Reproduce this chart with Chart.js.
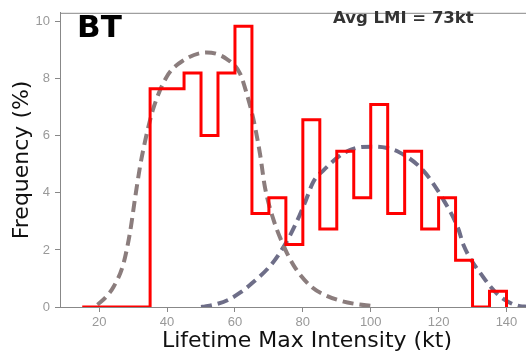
<!DOCTYPE html>
<html>
<head>
<meta charset="utf-8">
<script src="https://cdn.jsdelivr.net/npm/chart.js@4"></script>
<style>
  html, body { margin: 0; padding: 0; background: #fff; overflow: hidden; }
  #wrap { width: 556px; height: 356px; }
</style>
</head>
<body>
<div id="wrap"><canvas id="lmiChart" width="556" height="356"></canvas></div>
<script>
// histogram of lifetime max intensity, 5 kt bins
const binEdges = [15, 20, 25, 30, 35, 40, 45, 50, 55, 60, 65, 70, 75, 80, 85, 90, 95, 100, 105, 110, 115, 120, 125, 130, 135, 140];
const freqPct = [0, 0, 0, 0, 7.65, 7.65, 8.20, 6.01, 8.20, 9.84, 3.28, 3.83, 2.19, 6.56, 2.73, 5.46, 3.83, 7.10, 3.28, 5.46, 2.73, 3.83, 1.64, 0, 0.55];

// fitted curve for the weak mode
const weakX = [19.5, 22, 24.2, 27.1, 29.1, 30.5, 32, 33.5, 35.9, 39.9, 44.8, 51.7, 57.6, 61.5, 63.4, 65.4, 67.4, 68.8, 71.3, 74.2, 77.7, 82.6, 86, 91, 95.8, 100];
const weakY = [0.08, 0.35, 0.7, 1.5, 2.63, 3.76, 4.9, 5.8, 6.94, 8.07, 8.64, 8.92, 8.69, 8.18, 7.5, 6.6, 5.35, 4.22, 3.08, 2.18, 1.38, 0.7, 0.45, 0.22, 0.1, 0.04];

// fitted curve for the strong mode
const strongX = [50, 51.2, 54.5, 58, 61.5, 64.9, 70.8, 74.7, 77.7, 80.6, 83.1, 86, 91.9, 96.8, 100.7, 104.5, 108.6, 115.5, 121.4, 125.8, 127.3, 133.2, 137.6, 141, 144, 146];
const strongY = [0, 0.02, 0.1, 0.25, 0.5, 0.82, 1.5, 2.18, 2.86, 3.65, 4.39, 4.78, 5.38, 5.6, 5.62, 5.58, 5.41, 4.78, 3.76, 2.74, 2.18, 1.04, 0.42, 0.15, 0.03, 0.01];

const xTicks = [20, 40, 60, 80, 100, 120, 140];
const yTicks = [0, 2, 4, 6, 8, 10];

const histPoints = binEdges.map((x, i) => ({ x: x, y: i < freqPct.length ? freqPct[i] : 0 }));
const toPoints = (xs, ys) => xs.map((x, i) => ({ x: x, y: ys[i] }));

const tickFont = { family: "'Liberation Sans', Arial, sans-serif", size: 13 };
const titleFont = { family: "'DejaVu Sans', sans-serif", size: 22, lineHeight: 1.2 };
const spine = "#888";

// top/right frame plus the two annotations
const framePlugin = {
    id: "frame",
    afterDraw(chart) {
        const { ctx, chartArea: a } = chart;
        ctx.save();
        ctx.strokeStyle = spine;
        ctx.lineWidth = 1;
        ctx.beginPath();
        ctx.moveTo(a.left, a.top + 0.5);
        ctx.lineTo(a.right + 0.5, a.top + 0.5);
        ctx.lineTo(a.right + 0.5, a.bottom);
        ctx.stroke();

        ctx.fillStyle = "#000";
        ctx.font = "bold 31px 'DejaVu Sans'";
        ctx.textBaseline = "alphabetic";
        ctx.fillText("BT", 77, 37);

        ctx.fillStyle = "#333";
        ctx.font = "bold 16.5px 'DejaVu Sans'";
        ctx.fillText("Avg LMI = 73kt", 333, 22.5);
        ctx.restore();
    }
};

new Chart(document.getElementById("lmiChart"), {
    type: "line",
    data: {
        datasets: [
            {
                data: histPoints,
                stepped: true,
                borderColor: "#ff0000",
                borderWidth: 3,
                borderJoinStyle: "miter",
                pointRadius: 0,
                fill: false,
                clip: 0
            },
            {
                data: toPoints(weakX, weakY),
                borderColor: "#8b7d7d",
                borderWidth: 4,
                borderDash: [11, 6],
                cubicInterpolationMode: "monotone",
                pointRadius: 0,
                fill: false,
                clip: 0
            },
            {
                data: toPoints(strongX, strongY),
                borderColor: "#6e6e88",
                borderWidth: 4,
                borderDash: [11, 6],
                cubicInterpolationMode: "monotone",
                pointRadius: 0,
                fill: false,
                clip: 0
            }
        ]
    },
    options: {
        responsive: false,
        animation: false,
        layout: { padding: { top: 4, right: 2, left: 0, bottom: 0 } },
        plugins: { legend: { display: false }, tooltip: { enabled: false } },
        scales: {
            x: {
                type: "linear",
                min: 8.45,
                max: 154,
                afterBuildTicks: s => { s.ticks = xTicks.map(v => ({ value: v })); },
                afterFit: s => { s.height = 49; },
                grid: { drawOnChartArea: false, tickLength: 5, color: spine },
                border: { color: spine },
                ticks: { font: tickFont, color: "#999", padding: 3, maxRotation: 0 },
                title: {
                    display: true,
                    text: "Lifetime Max Intensity (kt)",
                    font: titleFont,
                    color: "#111",
                    padding: { top: 0, bottom: 2 }
                }
            },
            y: {
                min: 0,
                max: 10.31,
                afterBuildTicks: s => { s.ticks = yTicks.map(v => ({ value: v })); },
                afterFit: s => { s.width = 60; },
                grid: { drawOnChartArea: false, tickLength: 5, color: spine },
                border: { color: spine },
                ticks: { font: tickFont, color: "#999", padding: 5 },
                title: {
                    display: true,
                    text: "Frequency (%)",
                    font: titleFont,
                    color: "#111",
                    padding: { top: 9, bottom: 0 }
                }
            }
        }
    },
    plugins: [framePlugin]
});
</script>
</body>
</html>
